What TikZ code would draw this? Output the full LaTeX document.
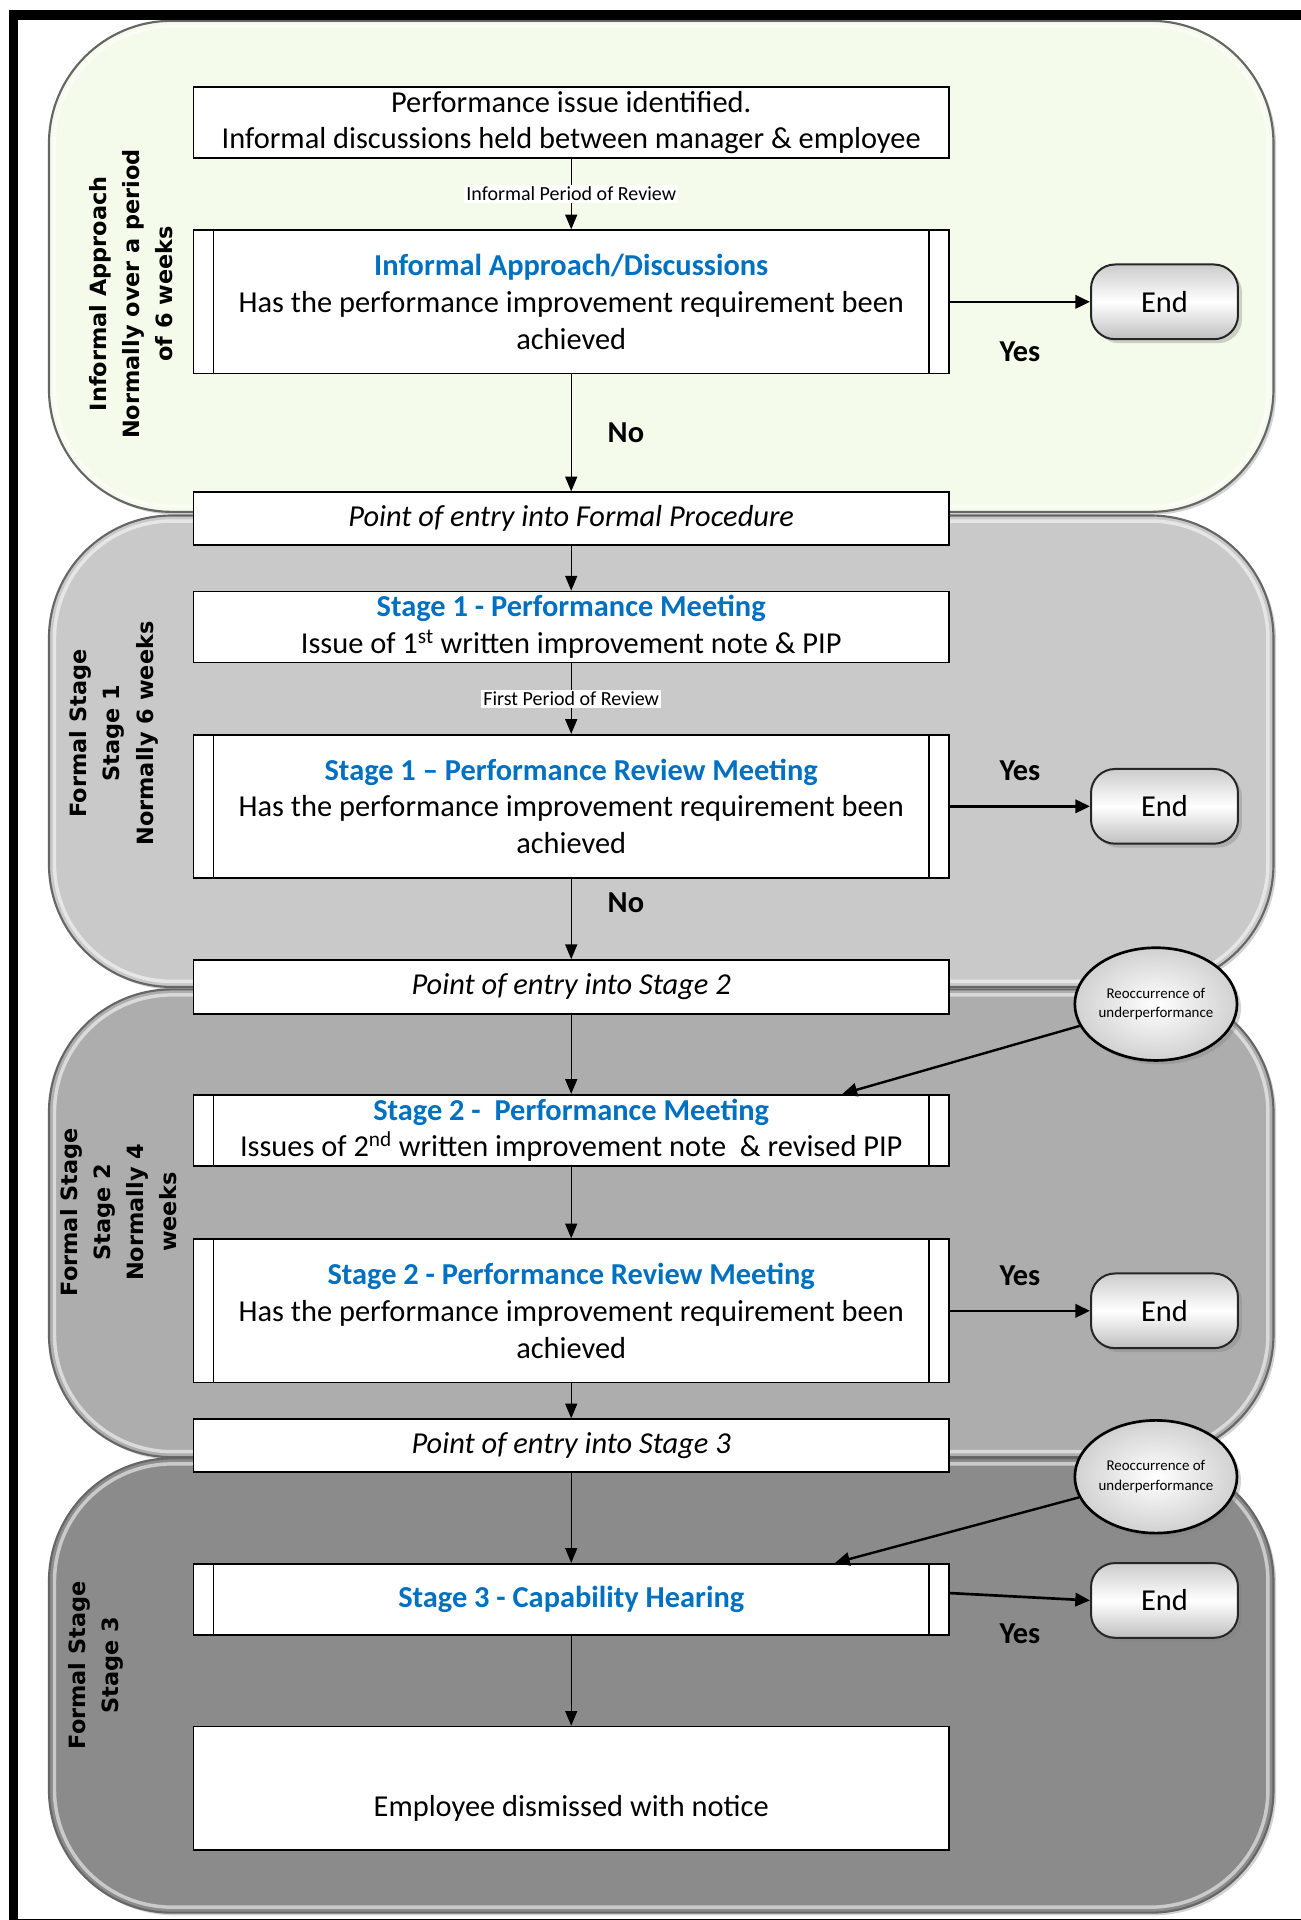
\documentclass[tikz,border=0pt]{standalone}
\usepackage{fontspec}
\setmainfont{Carlito}
\newfontfamily\vfont{DejaVu Sans}
\usetikzlibrary{arrows.meta,shapes.geometric,shadows,calc}
\definecolor{hdblue}{HTML}{0070C0}
\definecolor{bandA}{HTML}{F4FBEA}
\definecolor{bandB}{HTML}{C9C9C9}
\definecolor{bandC}{HTML}{ADADAD}
\definecolor{bandD}{HTML}{8B8B8B}
\newcommand\mainsz{\fontsize{22.8}{27.5}\selectfont}
\newcommand\labsz{\fontsize{15}{18}\selectfont}
\newcommand\elsz{\fontsize{11.2}{14.7}\selectfont}
\newcommand\vsz{\fontsize{16.8}{24.8}\selectfont}
\begin{document}
\begin{tikzpicture}[x=0.918pt,y=-0.918pt,
  band/.style={draw=black!60, line width=1.6pt, rounded corners=92pt,
    drop shadow={opacity=0.35,shadow xshift=2pt,shadow yshift=-2pt}},
  bevel/.style={draw=white, opacity=0.55, line width=2.6pt, rounded corners=88pt},
  box/.style={draw=black, line width=1.3pt, fill=white, minimum width=566.4pt,
    inner sep=0pt, align=center, font=\mainsz},
  endbox/.style={draw=black!85, line width=1.5pt, rounded corners=18pt,
    minimum width=110.2pt, minimum height=56pt, font=\mainsz,
    top color=black!20, bottom color=black!25, middle color=white,
    drop shadow={opacity=0.35,shadow xshift=3pt,shadow yshift=-3pt}},
  reocell/.style={ellipse, draw=black, line width=2pt, minimum width=120pt,
    minimum height=84.5pt, inner sep=0pt, align=center, font=\elsz,
    inner color=white, outer color=black!18,
    drop shadow={opacity=0.35,shadow xshift=3pt,shadow yshift=-3pt}},
  vlab/.style={rotate=90, align=center, font=\vfont\bfseries\vsz},
  conn/.style={draw=black, line width=0.9pt, -{Triangle[length=11pt,width=9pt]}},
  yesarr/.style={draw=black, line width=2pt, -{Triangle[length=11pt,width=10pt]}},
  reoc/.style={draw=black, line width=1.8pt, -{Triangle[length=11pt,width=10pt]}},
  lab/.style={fill=white, font=\labsz, inner sep=1.5pt},
  yn/.style={font=\mainsz\bfseries}
]
\useasboundingbox (0,0) rectangle (1062,1568);
\fill[white] (0,0) rectangle (1062,1568);

% bands
\draw[band, fill=bandA] (40,17) rectangle (1040,418);
\draw[bevel] (44.5,21.5) rectangle (1035.5,413.5);
\draw[band, fill=bandB] (40,421) rectangle (1040,806);
\draw[bevel] (44.5,425.5) rectangle (1035.5,801.5);
\draw[band, fill=bandC] (40,808) rectangle (1040,1190);
\draw[bevel] (44.5,812.5) rectangle (1035.5,1185.5);
\draw[band, fill=bandD] (40,1191) rectangle (1040,1562);
\draw[bevel] (44.5,1195.5) rectangle (1035.5,1557.5);

% outer frame
\draw[black, line width=7.3pt] (11,12.2) rectangle (1074,1571);

% band labels
\node[vlab] (L1) at (107,240) {Informal Approach\\Normally over a period\\of 6 weeks};
\node[vlab] (L2) at (93,599) {Formal Stage\\Stage 1\\Normally 6 weeks};
\node[vlab] (L3) at (97,990) {Formal Stage\\Stage 2\\Normally 4\\weeks};
\node[vlab] (L4) at (78,1360) {Formal Stage\\Stage 3};

% boxes
\node[box, minimum height=53.2pt] (A) at (466.5,100)
  {Performance issue identified.\\Informal discussions held between manager \& employee};
\node[box, minimum height=107.4pt] (B) at (466.5,246.5)
  {\textcolor{hdblue}{\textbf{Informal Approach/Discussions}}\\Has the performance improvement requirement been\\achieved};
\node[box, minimum height=39.5pt, font=\mainsz\itshape] (C) at (466.5,423.5)
  {Point of entry into Formal Procedure};
\node[box, minimum height=53.2pt] (D) at (466.5,512)
  {\textcolor{hdblue}{\textbf{Stage 1 - Performance Meeting}}\\Issue of 1\textsuperscript{st} written improvement note \& PIP};
\node[box, minimum height=107.4pt] (E) at (466.5,658.5)
  {\textcolor{hdblue}{\textbf{Stage 1 – Performance Review Meeting}}\\Has the performance improvement requirement been\\achieved};
\node[box, minimum height=40.4pt, font=\mainsz\itshape] (F) at (466.5,806)
  {Point of entry into Stage 2};
\node[box, minimum height=53.2pt] (G) at (466.5,923)
  {\textcolor{hdblue}{\textbf{Stage 2 -\ \ Performance Meeting}}\\Issues of 2\textsuperscript{nd} written improvement note\ \ \& revised PIP};
\node[box, minimum height=107.4pt] (H) at (466.5,1070.5)
  {\textcolor{hdblue}{\textbf{Stage 2 - Performance Review Meeting}}\\Has the performance improvement requirement been\\achieved};
\node[box, minimum height=39.5pt, font=\mainsz\itshape] (I) at (466.5,1180.5)
  {Point of entry into Stage 3};
\node[box, minimum height=53.2pt] (J) at (466.5,1306)
  {\textcolor{hdblue}{\textbf{Stage 3 - Capability Hearing}}};
\node[box, minimum height=92.7pt] (K) at (466.5,1460.5) {};
\node[font=\mainsz] (Kt) at (466.5,1477) {Employee dismissed with notice};

% inner lines of predefined-process boxes
\foreach \n in {B,E,G,H,J}{
  \draw[black, line width=1pt] ([xshift=15.6pt]\n.north west) -- ([xshift=15.6pt]\n.south west);
  \draw[black, line width=1pt] ([xshift=-15.6pt]\n.north east) -- ([xshift=-15.6pt]\n.south east);
}

% end boxes
\node[endbox] (end1) at (951,246.5) {End};
\node[endbox] (end2) at (951,658.5) {End};
\node[endbox] (end3) at (951,1070.5) {End};
\node[endbox] (end4) at (951,1307) {End};

% reoccurrence ellipses
\node[reocell] (el1) at (944,820) {Reoccurrence of\\underperformance};
\node[reocell] (el2) at (944,1206) {Reoccurrence of\\underperformance};

% connectors
\draw[conn] (A) -- node[lab] {Informal Period of Review} (B);
\draw[conn] (B) -- node[yn, xshift=41pt] {No} (C);
\draw[yesarr] (B) -- node[yn, yshift=-37.6pt] {Yes} (end1);
\draw[conn] (C) -- (D);
\draw[conn] (D) -- node[lab] {First Period of Review} (E);
\draw[yesarr] (E) -- node[yn, yshift=26.6pt] {Yes} (end2);
\draw[conn] (E) -- node[yn, pos=0.3, xshift=41pt] {No} (F);
\draw[conn] (F) -- (G);
\draw[reoc] (el1) -- ($(G.north)+(221.5,0)$);
\draw[conn] (G) -- (H);
\draw[yesarr] (H) -- node[yn, yshift=26.6pt] {Yes} (end3);
\draw[conn] (H) -- (I);
\draw[conn] (I) -- (J);
\draw[reoc] (el2) -- ($(J.north)+(215.5,0)$);
\draw[yesarr] ($(J.east)+(0,-5)$) -- node[yn, yshift=-27.5pt] {Yes} (end4.west);
\draw[conn] (J) -- (K);
\end{tikzpicture}
\end{document}
